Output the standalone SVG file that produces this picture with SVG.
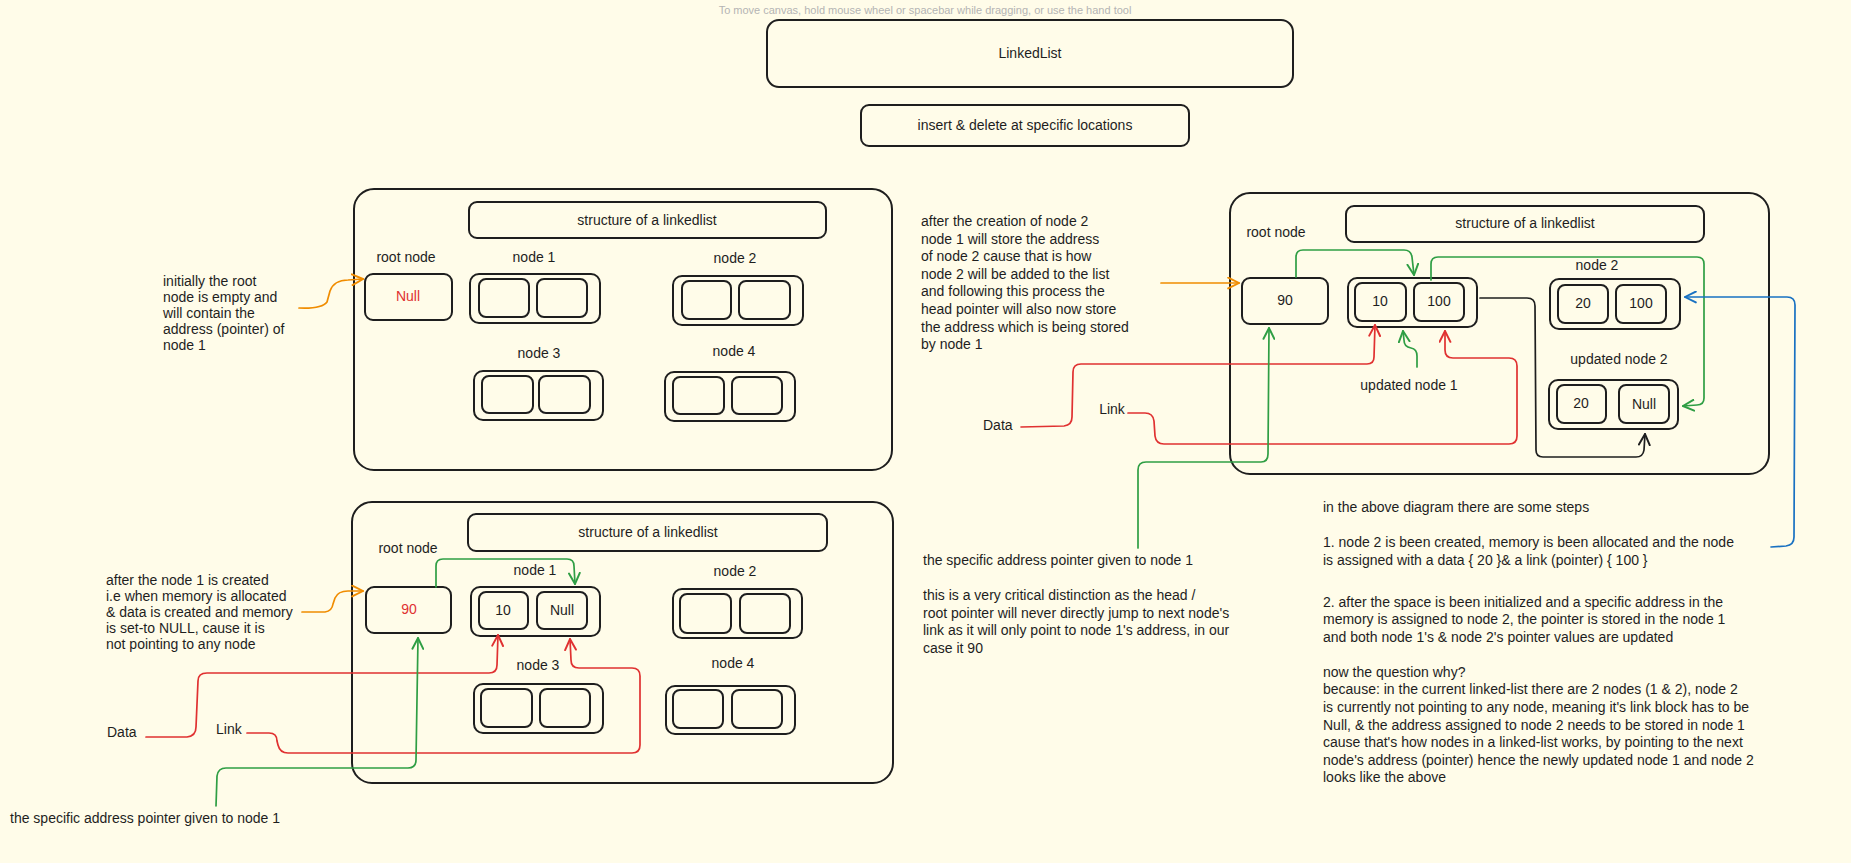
<svg xmlns="http://www.w3.org/2000/svg" width="1851" height="863" viewBox="0 0 1851 863">
<defs>
<style>
.t{font-family:"Liberation Sans",Arial,sans-serif;font-size:14px;fill:#1e1e1e}
.c{text-anchor:middle}
.red{fill:#e03131}
.hint{font-family:"Liberation Sans",Arial,sans-serif;font-size:11px;fill:#b4b4b4;text-anchor:middle}
.box{fill:none;stroke:#1e1e1e;stroke-width:2}
.ln{fill:none;stroke-width:1.7;stroke-linecap:round;stroke-linejoin:round}
.or{stroke:#f08c00}.gr{stroke:#2f9e44}.rd{stroke:#e03131}.bk{stroke:#1e1e1e}.bl{stroke:#1971c2}
</style>
<marker id="aOr" viewBox="0 0 12 12" refX="11" refY="6" markerWidth="13" markerHeight="13" markerUnits="userSpaceOnUse" orient="auto"><path d="M1,1 L11,6 L1,11" fill="none" stroke="#f08c00" stroke-width="1.8" stroke-linecap="round"/></marker>
<marker id="aGr" viewBox="0 0 12 12" refX="11" refY="6" markerWidth="13" markerHeight="13" markerUnits="userSpaceOnUse" orient="auto"><path d="M1,1 L11,6 L1,11" fill="none" stroke="#2f9e44" stroke-width="1.8" stroke-linecap="round"/></marker>
<marker id="aRd" viewBox="0 0 12 12" refX="11" refY="6" markerWidth="13" markerHeight="13" markerUnits="userSpaceOnUse" orient="auto"><path d="M1,1 L11,6 L1,11" fill="none" stroke="#e03131" stroke-width="1.8" stroke-linecap="round"/></marker>
<marker id="aBk" viewBox="0 0 12 12" refX="11" refY="6" markerWidth="13" markerHeight="13" markerUnits="userSpaceOnUse" orient="auto"><path d="M1,1 L11,6 L1,11" fill="none" stroke="#1e1e1e" stroke-width="1.8" stroke-linecap="round"/></marker>
<marker id="aBl" viewBox="0 0 12 12" refX="11" refY="6" markerWidth="13" markerHeight="13" markerUnits="userSpaceOnUse" orient="auto"><path d="M1,1 L11,6 L1,11" fill="none" stroke="#1971c2" stroke-width="1.8" stroke-linecap="round"/></marker>
</defs>
<rect width="1851" height="863" fill="#fffce9"/>
<text class="hint" x="925" y="14">To move canvas, hold mouse wheel or spacebar while dragging, or use the hand tool</text>

<g id="title"><rect class="box" x="767" y="20" width="526" height="67" rx="12"/><text class="t c" x="1030" y="58">LinkedList</text></g>
<g id="subtitle"><rect class="box" x="861" y="105" width="328" height="41" rx="8"/><text class="t c" x="1025" y="130">insert &amp; delete at specific locations</text></g>

<!-- Panel 1 -->
<g id="panel1"><rect class="box" x="354" y="189" width="538" height="281" rx="20"/></g>
<g id="p1-title"><rect class="box" x="469" y="202" width="357" height="36" rx="8"/><text class="t c" x="647" y="225">structure of a linkedlist</text></g>
<g id="p1-root"><text class="t c" x="406" y="262">root node</text><rect class="box" x="365" y="274" width="87" height="46" rx="8"/><text class="t c red" x="408" y="301">Null</text></g>
<g id="p1-node1"><text class="t c" x="534" y="262">node 1</text><rect class="box" x="470" y="274" width="130" height="49" rx="9"/><rect class="box" x="479" y="279" width="50" height="38" rx="7"/><rect class="box" x="537" y="279" width="50" height="38" rx="7"/></g>
<g id="p1-node2"><text class="t c" x="735" y="263">node 2</text><rect class="box" x="673" y="276" width="130" height="49" rx="9"/><rect class="box" x="682" y="281" width="49" height="38" rx="7"/><rect class="box" x="739" y="281" width="51" height="38" rx="7"/></g>
<g id="p1-node3"><text class="t c" x="539" y="358">node 3</text><rect class="box" x="474" y="371" width="129" height="49" rx="9"/><rect class="box" x="482" y="376" width="51" height="37" rx="7"/><rect class="box" x="539" y="376" width="51" height="37" rx="7"/></g>
<g id="p1-node4"><text class="t c" x="734" y="356">node 4</text><rect class="box" x="665" y="372" width="130" height="49" rx="9"/><rect class="box" x="673" y="377" width="51" height="37" rx="7"/><rect class="box" x="732" y="377" width="50" height="37" rx="7"/></g>
<g id="p1-note"><text class="t" x="163" y="286"><tspan x="163">initially the root</tspan><tspan x="163" dy="16">node is empty and</tspan><tspan x="163" dy="16">will contain the</tspan><tspan x="163" dy="16">address (pointer) of</tspan><tspan x="163" dy="16">node 1</tspan></text></g>

<!-- Panel 2 -->
<g id="panel2"><rect class="box" x="352" y="502" width="541" height="281" rx="20"/></g>
<g id="p2-title"><rect class="box" x="468" y="514" width="359" height="37" rx="8"/><text class="t c" x="648" y="537">structure of a linkedlist</text></g>
<g id="p2-root"><text class="t c" x="408" y="553">root node</text><rect class="box" x="366" y="587" width="85" height="46" rx="8"/><text class="t c red" x="409" y="614">90</text></g>
<g id="p2-node1"><text class="t c" x="535" y="575">node 1</text><rect class="box" x="471" y="587" width="129" height="49" rx="9"/><rect class="box" x="479" y="592" width="49" height="37" rx="7"/><rect class="box" x="537" y="592" width="50" height="37" rx="7"/><text class="t c" x="503" y="615">10</text><text class="t c" x="562" y="615">Null</text></g>
<g id="p2-node2"><text class="t c" x="735" y="576">node 2</text><rect class="box" x="673" y="589" width="129" height="49" rx="9"/><rect class="box" x="680" y="594" width="51" height="39" rx="7"/><rect class="box" x="740" y="594" width="50" height="39" rx="7"/></g>
<g id="p2-node3"><text class="t c" x="538" y="670">node 3</text><rect class="box" x="474" y="684" width="129" height="49" rx="9"/><rect class="box" x="481" y="689" width="51" height="38" rx="7"/><rect class="box" x="540" y="689" width="50" height="38" rx="7"/></g>
<g id="p2-node4"><text class="t c" x="733" y="668">node 4</text><rect class="box" x="666" y="686" width="129" height="48" rx="9"/><rect class="box" x="673" y="690" width="50" height="38" rx="7"/><rect class="box" x="732" y="690" width="50" height="38" rx="7"/></g>
<g id="p2-note"><text class="t" x="106" y="585"><tspan x="106">after the node 1 is created</tspan><tspan x="106" dy="16">i.e when memory is allocated</tspan><tspan x="106" dy="16">&amp; data is created and memory</tspan><tspan x="106" dy="16">is set-to NULL, cause it is</tspan><tspan x="106" dy="16">not pointing to any node</tspan></text></g>
<g id="p2-data"><text class="t" x="107" y="737">Data</text></g>
<g id="p2-link"><text class="t" x="216" y="734">Link</text></g>
<g id="p2-ptr"><text class="t" x="10" y="823">the specific address pointer given to node 1</text></g>

<!-- Panel 3 -->
<g id="panel3"><rect class="box" x="1230" y="193" width="539" height="281" rx="20"/></g>
<g id="p3-title"><rect class="box" x="1346" y="206" width="358" height="36" rx="8"/><text class="t c" x="1525" y="228">structure of a linkedlist</text></g>
<g id="p3-root"><text class="t c" x="1276" y="237">root node</text><rect class="box" x="1242" y="278" width="86" height="46" rx="8"/><text class="t c" x="1285" y="305">90</text></g>
<g id="p3-node1"><rect class="box" x="1348" y="278" width="129" height="49" rx="9"/><rect class="box" x="1355" y="283" width="51" height="38" rx="7"/><rect class="box" x="1414" y="283" width="50" height="38" rx="7"/><text class="t c" x="1380" y="306">10</text><text class="t c" x="1439" y="306">100</text><text class="t c" x="1409" y="390">updated node 1</text></g>
<g id="p3-node2"><text class="t c" x="1597" y="270">node 2</text><rect class="box" x="1550" y="279" width="130" height="50" rx="9"/><rect class="box" x="1558" y="285" width="50" height="38" rx="7"/><rect class="box" x="1616" y="285" width="50" height="38" rx="7"/><text class="t c" x="1583" y="308">20</text><text class="t c" x="1641" y="308">100</text></g>
<g id="p3-node2u"><text class="t c" x="1619" y="364">updated node 2</text><rect class="box" x="1549" y="380" width="129" height="49" rx="9"/><rect class="box" x="1557" y="385" width="49" height="38" rx="7"/><rect class="box" x="1619" y="385" width="50" height="38" rx="7"/><text class="t c" x="1581" y="408">20</text><text class="t c" x="1644" y="409">Null</text></g>
<g id="p3-note"><text class="t" x="921" y="226"><tspan x="921">after the creation of node 2</tspan><tspan x="921" dy="17.6">node 1 will store the address</tspan><tspan x="921" dy="17.6">of node 2 cause that is how</tspan><tspan x="921" dy="17.6">node 2 will be added to the list</tspan><tspan x="921" dy="17.6">and following this process the</tspan><tspan x="921" dy="17.6">head pointer will also now store</tspan><tspan x="921" dy="17.6">the address which is being stored</tspan><tspan x="921" dy="17.6">by node 1</tspan></text></g>
<g id="p3-data"><text class="t" x="983" y="430">Data</text></g>
<g id="p3-link"><text class="t c" x="1112" y="414">Link</text></g>
<g id="p3-ptr"><text class="t" x="923" y="565"><tspan x="923">the specific address pointer given to node 1</tspan><tspan x="923" dy="35">this is a very critical distinction as the head /</tspan><tspan x="923" dy="17.6">root pointer will never directly jump to next node's</tspan><tspan x="923" dy="17.6">link as it will only point to node 1's address, in our</tspan><tspan x="923" dy="17.6">case it 90</tspan></text></g>
<g id="p3-steps"><text class="t" x="1323" y="512"><tspan x="1323">in the above diagram there are some steps</tspan><tspan x="1323" dy="35">1. node 2 is been created, memory is been allocated and the node</tspan><tspan x="1323" dy="17.6">is assigned with a data { 20 }&amp; a link (pointer) { 100 }</tspan><tspan x="1323" dy="42">2. after the space is been initialized and a specific address in the</tspan><tspan x="1323" dy="17.6">memory is assigned to node 2, the pointer is stored in the node 1</tspan><tspan x="1323" dy="17.6">and both node 1's &amp; node 2's pointer values are updated</tspan><tspan x="1323" dy="35">now the question why?</tspan><tspan x="1323" dy="17.6">because: in the current linked-list there are 2 nodes (1 &amp; 2), node 2</tspan><tspan x="1323" dy="17.6">is currently not pointing to any node, meaning it's link block has to be</tspan><tspan x="1323" dy="17.6">Null, &amp; the address assigned to node 2 needs to be stored in node 1</tspan><tspan x="1323" dy="17.6">cause that's how nodes in a linked-list works, by pointing to the next</tspan><tspan x="1323" dy="17.6">node's address (pointer) hence the newly updated node 1 and node 2</tspan><tspan x="1323" dy="17.6">looks like the above</tspan></text></g>

<g id="connectors">
<path class="ln or" marker-end="url(#aOr)" d="M299,308 Q322,309 327,302 L330,291 Q334,280 348,280 L363,279"/>
<path class="ln or" marker-end="url(#aOr)" d="M302,612 L325,612 Q332,611 333,604 L335,598 Q338,591 348,591 L363,591"/>
<path class="ln gr" marker-end="url(#aGr)" d="M436,587 L436,566 Q436,559 443,559 L567,559 Q574,559 574,566 L575,584"/>
<path class="ln rd" marker-end="url(#aRd)" d="M146,737 L187,737 Q196,736 196,727 L198,681 Q198,673 207,673 L489,673 Q497,673 497,665 L498,635"/>
<path class="ln rd" marker-end="url(#aRd)" d="M247,733 L269,733 Q277,733 277,741 L278,745 Q280,753 288,753 L632,753 Q640,753 640,745 L640,676 Q640,668 632,668 L579,668 Q571,668 571,660 L570,639"/>
<path class="ln gr" marker-end="url(#aGr)" d="M216,806 L217,776 Q218,768 226,768 L408,768 Q416,768 416,760 L418,638"/>
<path class="ln or" marker-end="url(#aOr)" d="M1161,283 L1239,283"/>
<path class="ln gr" marker-end="url(#aGr)" d="M1296,277 L1296,257 Q1296,250 1303,250 L1404,250 Q1411,250 1412,257 L1414,275"/>
<path class="ln gr" marker-end="url(#aGr)" d="M1431,280 L1431,264 Q1431,257 1438,257 L1697,257 Q1704,257 1704,264 L1704,398 Q1704,405 1697,405 L1683,406"/>
<path class="ln bk" marker-end="url(#aBk)" d="M1480,298 L1527,298 Q1535,298 1535,306 L1536,450 Q1536,457 1543,457 L1636,457 Q1643,457 1644,450 L1645,434"/>
<path class="ln rd" marker-end="url(#aRd)" d="M1021,427 L1064,426 Q1072,425 1072,417 L1073,372 Q1073,364 1081,364 L1367,364 Q1374,364 1374,357 L1375,325"/>
<path class="ln rd" marker-end="url(#aRd)" d="M1128,413 L1145,413 Q1153,413 1154,421 L1155,436 Q1156,444 1164,444 L1509,444 Q1517,444 1517,436 L1517,366 Q1517,358 1509,358 L1453,358 Q1445,358 1445,350 L1445,331"/>
<path class="ln gr" marker-end="url(#aGr)" d="M1417,367 L1417,356 Q1417,349 1411,348 Q1404,347 1404,340 L1403,331"/>
<path class="ln gr" marker-end="url(#aGr)" d="M1138,548 L1138,470 Q1138,462 1146,462 L1261,462 Q1268,462 1268,454 L1269,328"/>
<path class="ln bl" marker-end="url(#aBl)" d="M1771,547 L1786,546 Q1794,545 1794,537 L1795,305 Q1795,297 1787,297 L1685,297"/>
</g>
</svg>
